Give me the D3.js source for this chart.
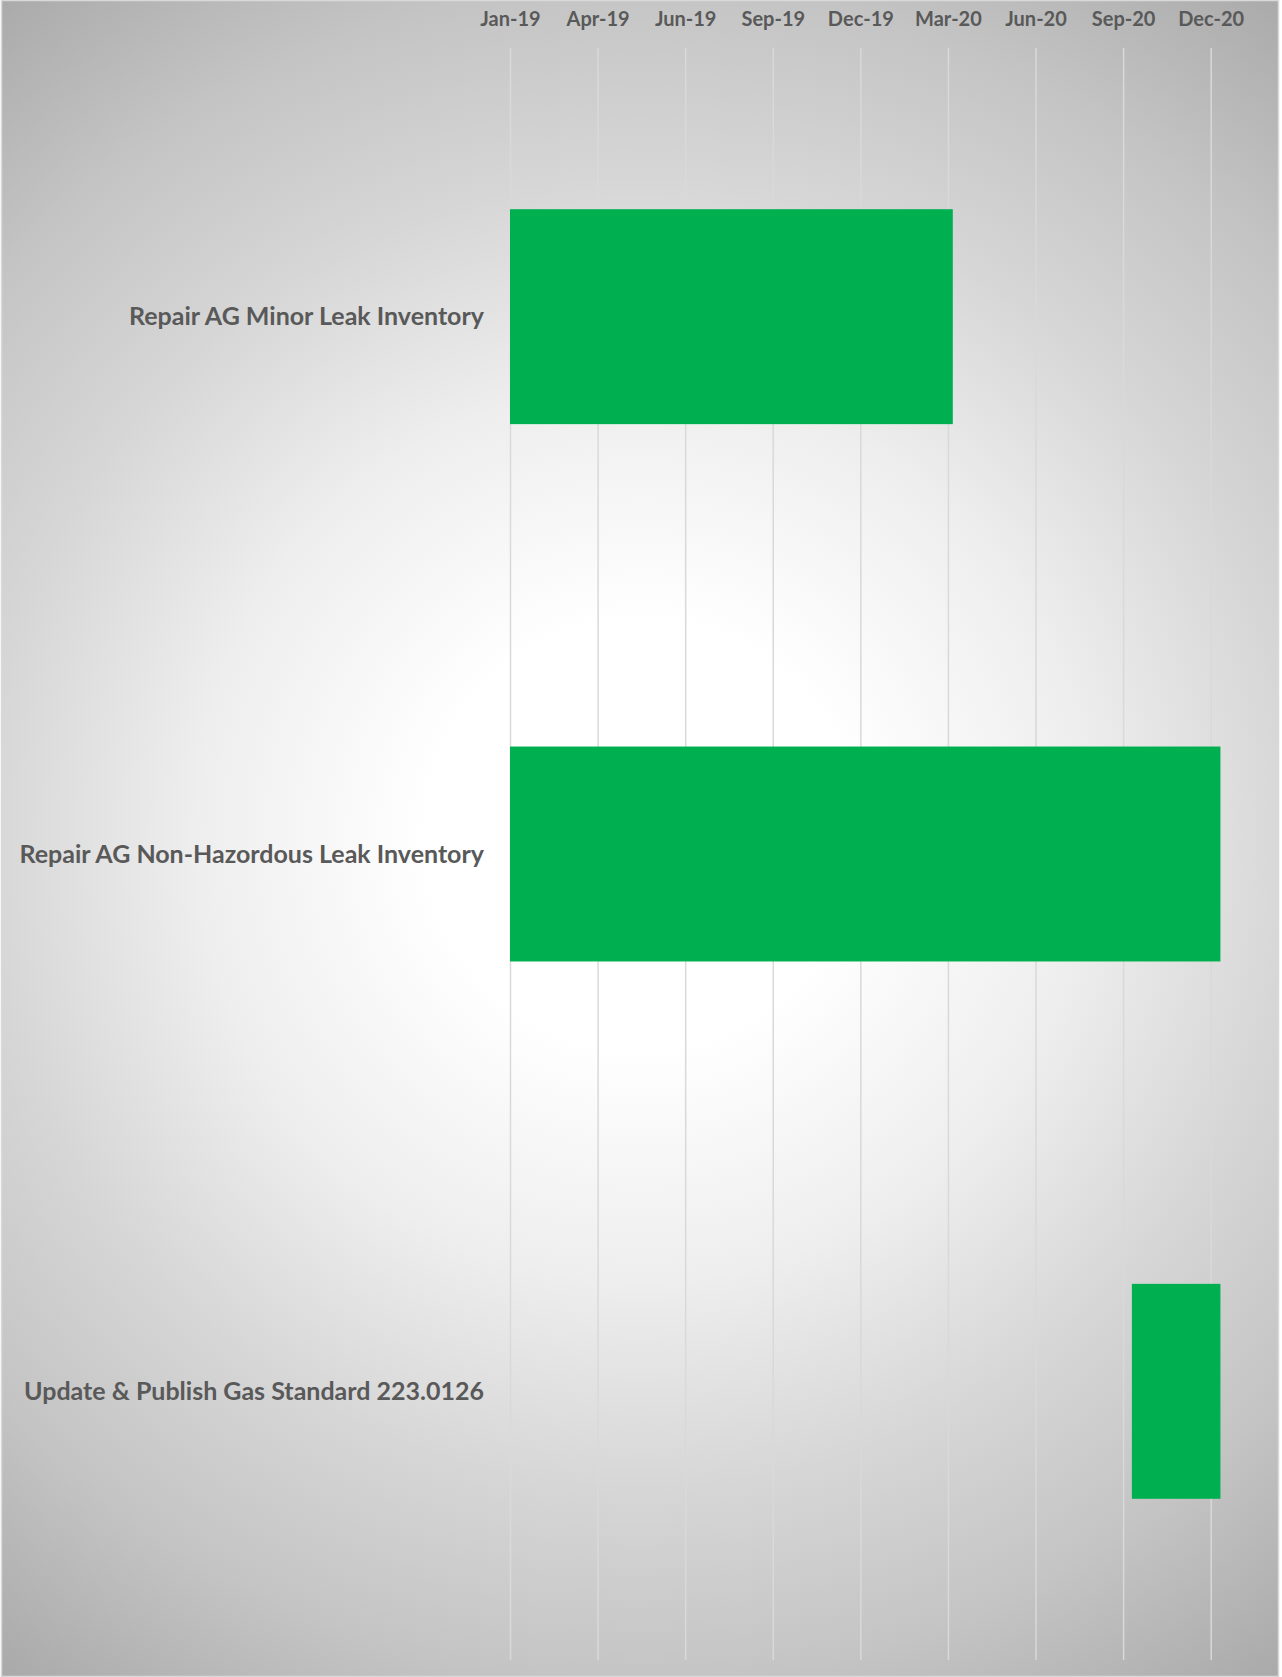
<!DOCTYPE html>
<html>
<head>
<meta charset="utf-8">
<script src="https://cdn.jsdelivr.net/npm/d3@7"></script>
<style>
  body { margin: 0; background: #fff; }
  svg { display: block; }
</style>
</head>
<body>
<svg id="viz"></svg>
<script>
// task data
var tasks = [
    "Repair AG Minor Leak Inventory",
    "Repair AG Non-Hazordous Leak Inventory",
    "Update & Publish Gas Standard 223.0126"
];
var startDates = ["2019-01-01", "2019-01-01", "2020-10-01"];
var endDates = ["2020-03-31", "2020-12-31", "2020-12-31"];

// axis: first tick and the step in days between ticks (Excel major unit)
var axisStart = "2019-01-01";
var tickStepDays = 90;
var tickCount = 9;

var width = 1282;
var height = 1677;
var parse = d3.utcParse("%Y-%m-%d");
var fmt = d3.utcFormat("%b-%y");

var svg = d3.select("#viz").attr("width", width).attr("height", height);

// radial background like the Excel preset
var defs = svg.append("defs");
var grad = defs.append("radialGradient")
    .attr("id", "bg")
    .attr("gradientUnits", "userSpaceOnUse")
    .attr("cx", 641).attr("cy", 834).attr("r", 1060);
[[0, "#ffffff"], [0.2, "#ffffff"], [0.42, "#eeeeee"], [0.62, "#d6d6d6"], [0.8, "#c4c4c4"], [1, "#a9a9a9"]]
    .forEach(function (s) {
        grad.append("stop").attr("offset", s[0]).attr("stop-color", s[1]);
    });

svg.append("rect")
    .attr("x", 1.5).attr("y", 0.5)
    .attr("width", 1277).attr("height", 1676)
    .attr("fill", "url(#bg)")
    .attr("stroke", "#d9d9d9")
    .attr("stroke-width", 1.5);

var margin = { top: 48, bottom: 1660, left: 510 };

var tickDates = d3.range(tickCount).map(function (i) {
    return d3.utcDay.offset(parse(axisStart), i * tickStepDays);
});

var x = d3.scaleUtc()
    .domain([tickDates[0], tickDates[tickDates.length - 1]])
    .range([510, 1210.7]);

var y = d3.scaleBand()
    .domain(tasks)
    .range([margin.top, margin.bottom])
    .paddingInner(0.6)
    .paddingOuter(0.3);

// gridlines
var grid = svg.append("g")
    .attr("transform", "translate(0," + margin.top + ")")
    .call(d3.axisBottom(x).tickValues(tickDates).tickSize(margin.bottom - margin.top).tickFormat(""));
grid.select(".domain").remove();
grid.selectAll("line").attr("stroke", "#d9d9d9").attr("stroke-width", 1.5);

// top date labels
var xAxis = svg.append("g")
    .attr("transform", "translate(0,26)")
    .call(d3.axisTop(x).tickValues(tickDates).tickSize(0).tickPadding(0).tickFormat(fmt));
xAxis.select(".domain").remove();
xAxis.selectAll("text")
    .attr("fill", "#595959")
    .style("font-family", "Lato, 'Open Sans', sans-serif")
    .style("font-weight", "bold")
    .style("font-size", "20px");

// bars
svg.append("g").selectAll("rect")
    .data(tasks)
    .enter()
    .append("rect")
    .attr("x", function (d, i) { return x(parse(startDates[i])); })
    .attr("y", function (d) { return y(d); })
    .attr("width", function (d, i) { return x(parse(endDates[i])) - x(parse(startDates[i])); })
    .attr("height", y.bandwidth())
    .attr("fill", "#00b050");

// task labels
svg.append("g").selectAll("text")
    .data(tasks)
    .enter()
    .append("text")
    .attr("x", 484)
    .attr("y", function (d) { return y(d) + y.bandwidth() / 2; })
    .attr("dy", "0.35em")
    .attr("text-anchor", "end")
    .attr("fill", "#595959")
    .style("font-family", "Lato, 'Open Sans', sans-serif")
    .style("font-weight", "bold")
    .style("font-size", "25px")
    .text(function (d) { return d; });
</script>
</body>
</html>
